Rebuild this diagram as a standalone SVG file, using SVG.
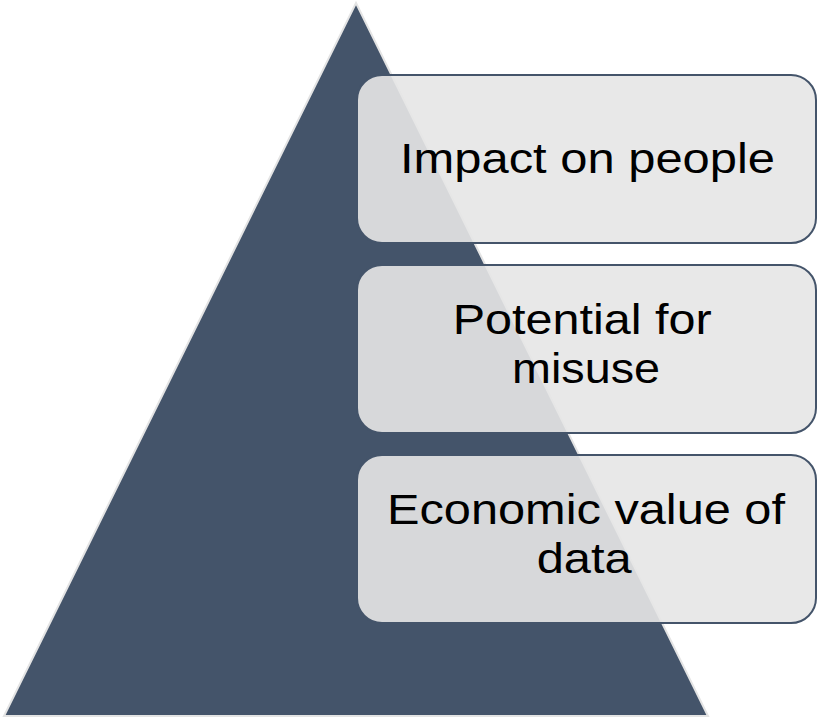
<svg xmlns="http://www.w3.org/2000/svg" width="831" height="718" viewBox="0 0 831 718">
  <style>
    .tri { fill: #44546A; stroke: #E4E4E4; stroke-width: 2; stroke-linejoin: miter; }
    .box { fill: #E6E6E6; fill-opacity: 0.91; stroke: #44546A; stroke-width: 2; }
    .lbl { font-family: "Liberation Sans", Arial, sans-serif; font-size: 42px; fill: #000000; text-anchor: middle; }
  </style>
  <rect x="0" y="0" width="831" height="718" fill="#FFFFFF"/>
  <g id="pyramid">
    <polygon class="tri" points="356,3 708,716 4,716"/>
  </g>
  <g id="connectors"></g>
  <g id="node-impact">
    <rect class="box" x="357" y="75" width="459" height="168" rx="25" ry="25"/>
    <text class="lbl" x="587.5" y="173.3" textLength="375" lengthAdjust="spacingAndGlyphs">Impact on people</text>
  </g>
  <g id="node-misuse">
    <rect class="box" x="357" y="265" width="459" height="168" rx="25" ry="25"/>
    <text class="lbl" x="582.2" y="334.3" textLength="259" lengthAdjust="spacingAndGlyphs">Potential for</text>
    <text class="lbl" x="586" y="382.7" textLength="148" lengthAdjust="spacingAndGlyphs">misuse</text>
  </g>
  <g id="node-economic">
    <rect class="box" x="357" y="455" width="459" height="168" rx="25" ry="25"/>
    <text class="lbl" x="586" y="524.3" textLength="398" lengthAdjust="spacingAndGlyphs">Economic value of</text>
    <text class="lbl" x="584.2" y="572.7" textLength="95" lengthAdjust="spacingAndGlyphs">data</text>
  </g>
</svg>
